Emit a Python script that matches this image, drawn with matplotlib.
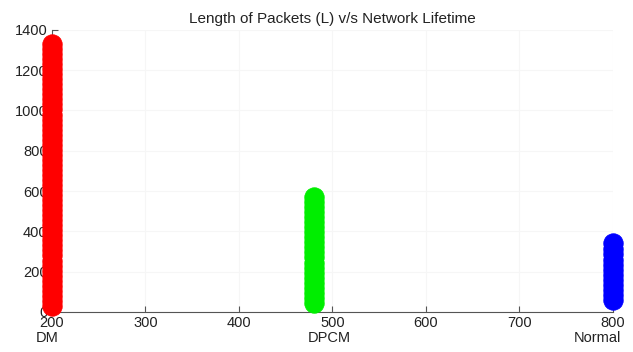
import numpy as np
import matplotlib
matplotlib.use('Agg')
import matplotlib.pyplot as plt

plt.rcParams['font.family'] = ['Liberation Sans', 'DejaVu Sans']

# network lifetime for each scheme and the packet lengths observed there
schemes = ['DM', 'DPCM', 'Normal']
lifetimes = [200, 480, 800]
dm_lengths = [30, 55, 80, 105, 130, 155, 180, 205, 230, 255, 280, 305, 330, 355,
              380, 405, 430, 455, 480, 505, 530, 555, 580, 605, 630, 655, 680,
              705, 730, 755, 780, 805, 830, 855, 880, 905, 930, 955, 980, 1005,
              1030, 1055, 1080, 1105, 1130, 1155, 1180, 1205, 1230, 1255, 1280,
              1305, 1330]
dpcm_lengths = [45, 70, 95, 120, 145, 170, 195, 220, 245, 270, 295, 320, 345,
                370, 395, 420, 445, 470, 495, 520, 545, 570]
normal_lengths = [60, 85, 110, 135, 160, 185, 210, 235, 260, 285, 310, 340]
colors = ['#ff0000', '#00ee00', '#0000ff']

xticks = [200, 300, 400, 500, 600, 700, 800]
yticks = [0, 200, 400, 600, 800, 1000, 1200, 1400]

fig = plt.figure(figsize=(6.33, 3.52), dpi=100)
ax = fig.add_axes([0.082, 0.114, 0.886, 0.801])

for x, lengths, c in zip(lifetimes, [dm_lengths, dpcm_lengths, normal_lengths], colors):
    ax.plot([x] * len(lengths), lengths, 'o', color=c, markersize=14,
            markeredgecolor=c, markeredgewidth=0.6, clip_on=False, zorder=3)

ax.set_xlim(200, 800)
ax.set_ylim(0, 1400)
ax.set_xticks(xticks)
ax.set_yticks(yticks)
ax.tick_params(direction='in', length=4, colors='#555555', labelcolor='#222222',
               labelsize=10.5, pad=3)
ax.grid(True, color='#f6f6f6', linewidth=0.8)
ax.set_axisbelow(True)
for side in ['top', 'right']:
    ax.spines[side].set_visible(False)
for side in ['left', 'bottom']:
    ax.spines[side].set_color('#555555')
    ax.spines[side].set_linewidth(0.8)

ax.set_title('Length of Packets (L) v/s Network Lifetime', fontsize=11,
             color='#222222', pad=5)

# scheme names under the matching ticks
label_x = [195, 497, 784]
for name, lx in zip(schemes, label_x):
    ax.text(lx, -0.068, name, transform=ax.get_xaxis_transform(),
            ha='center', va='top', fontsize=10.5, color='#222222')

fig.savefig('out.png', dpi=100)
